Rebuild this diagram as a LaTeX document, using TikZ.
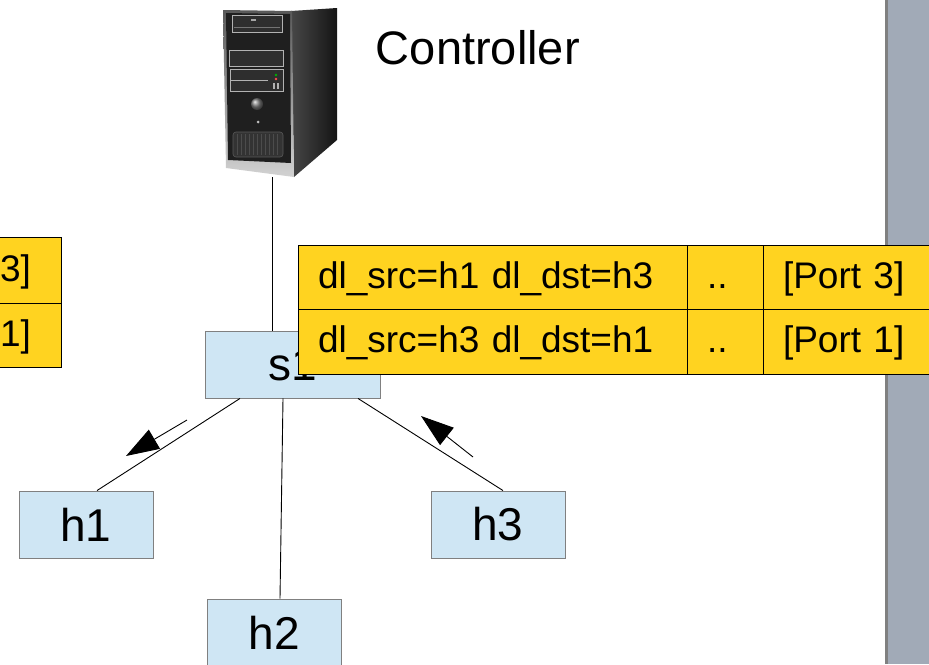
\documentclass[tikz,border=0pt]{standalone}
\usepackage{fontspec}
\setmainfont{Liberation Sans}
\usetikzlibrary{positioning}
\usetikzlibrary{arrows.meta}
\definecolor{hostblue}{HTML}{CFE6F4}
\definecolor{flowyellow}{HTML}{FFD320}
\definecolor{panelgray}{HTML}{A1AAB7}
\tikzstyle{H} = [rectangle,draw=gray,fill=hostblue,minimum width=134pt,minimum height=67pt,inner sep=0pt,font=\fontsize{46}{50}\selectfont]
\tikzstyle{S} = [H,minimum width=175pt]
\tikzstyle{T} = [rectangle,draw=black,fill=flowyellow,minimum height=64.5pt,text height=22pt,text depth=0pt,inner xsep=20pt,inner ysep=0pt,outer sep=0pt,align=left,anchor=north west,font=\fontsize{37}{42}\selectfont]
\tikzstyle{flow} = [-{Triangle[length=33pt,width=22pt]}]

\begin{document}
\begin{tikzpicture}[x=1pt,y=-1pt,line width=0.9pt]
	\useasboundingbox (0,0) rectangle (929,664);
	\clip (0,0) rectangle (929,664);
	\fill [white] (0,0) rectangle (929,664);
	
	% side bar
	\fill [panelgray] (885,0) rectangle (929,664);
	\fill [gray] (885,0) rectangle (888,664);
	
	%%%%%%%%%%%%%%% controller box
	\shade [left color=black!72,right color=black!92] (291,11) -- (337,8) -- (337,140) -- (294,177) -- cycle;
	\shade [top color=black!65,bottom color=gray!35] (223,10) -- (292,11) -- (294,177) -- (226,168) -- cycle;
	\fill [black!88] (226,13) -- (290,14) -- (291,163) -- (228,160) -- cycle;
	\draw [gray!60,fill=black!82,line width=0.6pt] (232,15) rectangle (282,32);
	\draw [black!55,line width=0.6pt] (234,27) -- (280,27);
	\fill [gray!70] (251,19) rectangle (256,21);
	\draw [gray!60,fill=black!82,line width=0.6pt] (229,50) rectangle (283,66);
	\draw [gray!60,fill=black!82,line width=0.6pt] (230,69) rectangle (283,91);
	\draw [gray!60,line width=0.6pt] (231,80) -- (268,80);
	\fill [green!70!black] (276,75) circle (1.3pt);
	\fill [red!70] (276,79) circle (1.3pt);
	\fill [gray!60] (273,83) rectangle (275,89);
	\fill [gray!60] (277,83) rectangle (279,89);
	\shade [ball color=gray] (257,104) circle (6pt);
	\fill [gray!50] (258,122) circle (1.5pt);
	\draw [black!65,fill=black!80,rounded corners=3pt,line width=0.6pt] (233,132) rectangle (283,157);
	\foreach \x in {237,241,...,279}
	\draw [black!70,line width=0.6pt] (\x,134) -- (\x,155);
	\coordinate (pc) at (272,177);
	\node [anchor=base west,inner sep=0pt,font=\fontsize{47}{52}\selectfont] (ctl) at(375.5,64) {Controller};
	
	%%%%%%%%%%%%%%% switch and hosts
	\node [S] (s1) at(292.5,364.5) {s1};
	\node [H] (h1) at(86,524.5) {h1};
	\node [H] (h3) at(498,524.5) {h3};
	\node [H] (h2) at(274.5,632.5) {h2};
	\draw (pc) -- (pc |- s1.north) ;
	\draw ([xshift=-52.5pt]s1.south) -- ([xshift=11pt]h1.north) ;
	\draw ([xshift=-9.5pt]s1.south) -- ([xshift=5.5pt]h2.north) ;
	\draw ([xshift=65.5pt]s1.south) -- ([xshift=5pt]h3.north) ;
	
	% packet directions
	\coordinate (a1) at (187,420);
	\coordinate (b1) at (126,456);
	\coordinate (a3) at (473,457);
	\coordinate (b3) at (421,416);
	\draw [flow] (a1) -- (b1) ;
	\draw [flow] (a3) -- (b3) ;
	
	%%%%%%%%%%%%%%% flow table
	\node [T,text width=349pt] (f11) at(298,245) {dl\_src=h1 dl\_dst=h3};
	\node [T,text width=36pt,right=0pt of f11] (f12) {..};
	\node [T,text width=131pt,right=0pt of f12] (f13) {[Port 3]};
	\node [T,text width=349pt,below=0pt of f11] (f21) {dl\_src=h3 dl\_dst=h1};
	\node [T,text width=36pt,right=0pt of f21] (f22) {..};
	\node [T,text width=131pt,right=0pt of f22] (f23) {[Port 1]};
	%----
	\node [T,text width=111pt,inner xsep=30pt,align=right,minimum height=66pt] (g13) at(-110,237) {3]};
	\node [T,text width=111pt,inner xsep=30pt,align=right,minimum height=64pt,below=0pt of g13] (g23) {1]};
	
\end{tikzpicture}
\end{document}
